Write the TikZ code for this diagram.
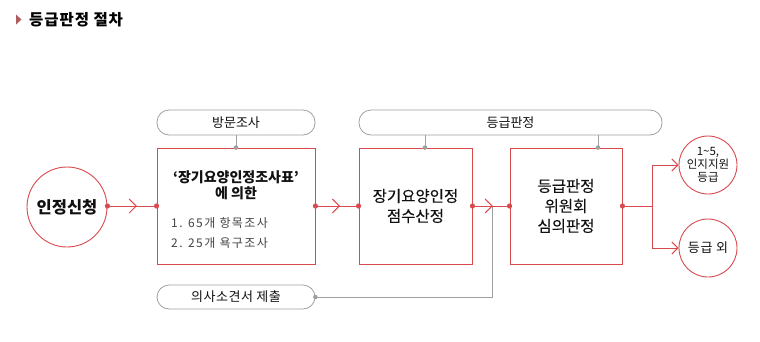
\documentclass[tikz,border=0pt]{standalone}
\usepackage{fontspec}
\setmainfont{Noto Sans CJK KR}
\newfontfamily\semifont{Noto Sans CJK KR}[FakeBold=0.25]
\usetikzlibrary{arrows.meta,decorations.markings,calc}
\definecolor{flowred}{HTML}{D94A4F}
\definecolor{pillgray}{HTML}{A0A0A0}
\definecolor{txtdark}{HTML}{111111}
\definecolor{listgray}{HTML}{444444}
\tikzset{
  stepbox/.style={draw=flowred, line width=0.9pt, fill=white, minimum height=116pt, inner sep=0pt, text=txtdark, align=center, font=\semifont\fontsize{15.5}{20}\selectfont},
  pill/.style={draw=pillgray, line width=0.8pt, fill=white, rounded corners=12pt, minimum height=25pt, inner sep=0pt, text=txtdark, font=\fontsize{13}{14}\selectfont},
  endcircle/.style={circle, draw=flowred, line width=0.9pt, fill=white, inner sep=0pt, align=center, text=txtdark},
  flow/.style={draw=flowred, line width=1pt},
  graylink/.style={draw=pillgray, line width=0.8pt},
  chev/.style={postaction={decorate}, decoration={markings, mark=at position #1 with {\arrow[flowred, line width=1pt]{Straight Barb[length=7pt, width=14pt]}}}},
  reddot/.style={fill=flowred, draw=none},
  graydot/.style={fill=pillgray, draw=none}
}
\begin{document}
\begin{tikzpicture}[x=1pt,y=-1pt]
\useasboundingbox (0,0) rectangle (760,341);
% title
\fill[flowred!70!black!80] (16,14.5) -- (21.5,19.5) -- (16,24.5) -- cycle;
\node[anchor=west, inner sep=0pt, font=\fontsize{15.5}{15}\bfseries\selectfont\addfontfeature{LetterSpace=6}] (title) at (29,19.5) {등급판정 절차};
% nodes
\node[endcircle, minimum size=80pt, font=\fontsize{16.5}{18}\bfseries\selectfont] (apply) at (67,207) {인정신청};
\node[stepbox, minimum width=158pt] (box1) at (236,206) {};
\node[anchor=center, inner sep=0pt, align=center, font=\fontsize{14}{17}\bfseries\selectfont, text=txtdark] (b1title) at (236,185.5) {‘장기요양인정조사표’\\[-0.5pt]에 의한};
\node[anchor=west, inner sep=0pt, font=\fontsize{12}{14}\selectfont\addfontfeature{LetterSpace=12}, text=listgray] (b1l1) at (171,223) {1. 65개 항목조사};
\node[anchor=west, inner sep=0pt, font=\fontsize{12}{14}\selectfont\addfontfeature{LetterSpace=12}, text=listgray] (b1l2) at (171,243) {2. 25개 욕구조사};
\node[stepbox, minimum width=113pt] (box2) at (415.5,206) {장기요양인정\\점수산정};
\node[stepbox, minimum width=112pt] (box3) at (566,206) {등급판정\\위원회\\심의판정};
\node[pill, minimum width=158pt] (visit) at (236,122.5) {방문조사};
\node[pill, minimum width=303pt] (grade) at (510.5,122.5) {등급판정};
\node[pill, minimum width=158pt, minimum height=24pt, font=\fontsize{13}{14}\selectfont\addfontfeature{LetterSpace=4}] (doctor) at (236,297) {의사소견서 제출};
\node[endcircle, minimum size=58pt, font=\fontsize{11.5}{13}\selectfont] (g15) at (708,165) {1\textasciitilde5,\\인지지원\\등급};
\node[endcircle, minimum size=58pt, font=\fontsize{13}{14}\selectfont\addfontfeature{LetterSpace=6}] (gout) at (708,248) {등급 외};
% coordinates
\coordinate (c2) at (425,0);
\coordinate (c3) at (598,0);
\coordinate (join) at (492,206);
\coordinate (branch) at (652,206);
% gray links
\draw[graylink] (visit.south) -- (box1.north);
\draw[graylink] (grade.south -| c2) -- (box2.north -| c2);
\draw[graylink] (grade.south -| c3) -- (box3.north -| c3);
\draw[graylink] (doctor.east) -| (join);
\fill[graydot] (box1.north) circle (2.3pt);
\fill[graydot] (box2.north -| c2) circle (2.3pt);
\fill[graydot] (box3.north -| c3) circle (2.3pt);
\fill[graydot] (doctor.east) circle (2.3pt);
% flow
\draw[flow, chev=0.6] (apply.east |- box1.west) -- (box1.west);
\draw[flow, chev=0.57] (box1.east) -- (box2.west);
\draw[flow, chev=0.55] (box2.east) -- (box3.west);
\draw[flow] (box3.east) -- (branch);
\draw[flow, -{Straight Barb[length=6pt, width=12pt]}] (branch) |- (g15.west);
\draw[flow, -{Straight Barb[length=6pt, width=12pt]}] (branch) |- (gout.west);
\foreach \p in {apply.east |- box1.west, box1.west, box1.east, box2.west, box2.east, box3.west, box3.east}
  \fill[reddot] (\p) circle (2.6pt);
\end{tikzpicture}
\end{document}
